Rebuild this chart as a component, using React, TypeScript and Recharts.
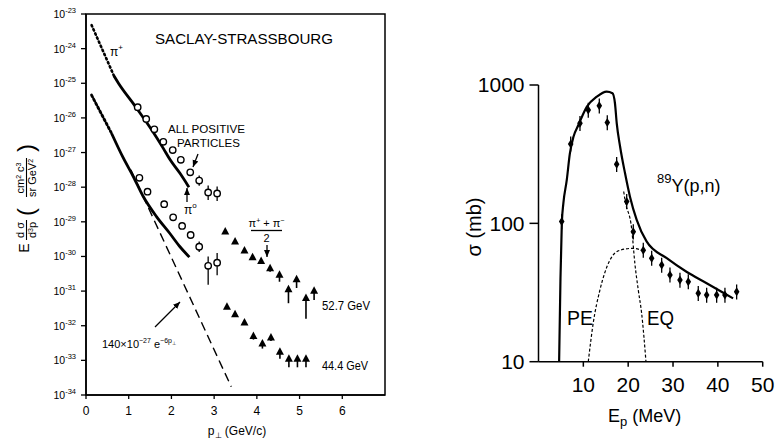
import React from 'react';
import { ComposedChart, Line, Scatter, XAxis, YAxis, ErrorBar, ReferenceArea } from 'recharts';

const FONT = '"Liberation Sans", Arial, sans-serif';

// ---------------- Left panel (y = log10 of E d3sigma/dp3) ----------------
const leftXTicks = [0, 1, 2, 3, 4, 5, 6];
const leftYTicks = [-34, -33, -32, -31, -30, -29, -28, -27, -26, -25, -24, -23];

const piPlusFitDotted = [
  { x: 0.13, y: -23.32 },
  { x: 0.66, y: -24.8 },
];
const piPlusFit = [
  { x: 0.66, y: -24.8 },
  { x: 0.76, y: -25.0 },
  { x: 1.15, y: -25.66 },
  { x: 1.54, y: -26.35 },
  { x: 1.81, y: -26.88 },
  { x: 1.97, y: -27.21 },
  { x: 2.2, y: -27.6 },
  { x: 2.41, y: -28.0 },
];
const piZeroFitDotted = [
  { x: 0.13, y: -25.34 },
  { x: 0.6, y: -26.45 },
];
const piZeroFit = [
  { x: 0.6, y: -26.45 },
  { x: 0.87, y: -27.15 },
  { x: 1.11, y: -27.7 },
  { x: 1.34, y: -28.27 },
  { x: 1.65, y: -28.85 },
  { x: 1.96, y: -29.33 },
  { x: 2.2, y: -29.72 },
  { x: 2.42, y: -30.02 },
];
const expLine = [
  { x: 1.05, y: -27.5 },
  { x: 3.4, y: -33.76 },
];
const allPositiveUpper = [
  { x: 1.21, y: -25.69, e: [0, 0] },
  { x: 1.41, y: -26.03, e: [0, 0] },
  { x: 1.6, y: -26.33, e: [0, 0] },
  { x: 1.81, y: -26.69, e: [0, 0] },
  { x: 2.03, y: -26.93, e: [0, 0] },
  { x: 2.22, y: -27.21, e: [0, 0] },
  { x: 2.44, y: -27.57, e: [0.08, 0.08] },
  { x: 2.65, y: -27.81, e: [0.15, 0.15] },
  { x: 2.86, y: -28.15, e: [0.22, 0.2] },
  { x: 3.07, y: -28.18, e: [0.22, 0.2] },
];
const allPositiveLower = [
  { x: 1.25, y: -27.73, e: [0, 0] },
  { x: 1.44, y: -28.13, e: [0, 0] },
  { x: 1.83, y: -28.49, e: [0, 0] },
  { x: 2.04, y: -28.87, e: [0, 0] },
  { x: 2.25, y: -29.12, e: [0, 0] },
  { x: 2.45, y: -29.38, e: [0.08, 0.08] },
  { x: 2.65, y: -29.72, e: [0.15, 0.15] },
  { x: 2.86, y: -30.27, e: [0.55, 0.27] },
  { x: 3.07, y: -30.18, e: [0.36, 0.28] },
];
const pions527 = [
  { x: 3.26, y: -29.28, e: [0, 0] },
  { x: 3.49, y: -29.57, e: [0, 0] },
  { x: 3.71, y: -29.83, e: [0, 0] },
  { x: 3.9, y: -30.02, e: [0, 0] },
  { x: 4.1, y: -30.13, e: [0, 0] },
  { x: 4.31, y: -30.34, e: [0.1, 0.05] },
  { x: 4.53, y: -30.53, e: [0.2, 0.05] },
  { x: 4.74, y: -30.95, e: [0.4, 0.05] },
  { x: 4.93, y: -30.66, e: [0.25, 0.05] },
  { x: 5.15, y: -31.2, e: [0.6, 0.05] },
  { x: 5.34, y: -30.99, e: [0.27, 0.05] },
];
const pions444 = [
  { x: 3.3, y: -31.45, e: [0, 0] },
  { x: 3.49, y: -31.67, e: [0, 0] },
  { x: 3.71, y: -31.91, e: [0, 0] },
  { x: 3.92, y: -32.3, e: [0.1, 0.05] },
  { x: 4.13, y: -32.51, e: [0.15, 0.05] },
  { x: 4.33, y: -32.34, e: [0.1, 0.05] },
  { x: 4.54, y: -32.75, e: [0.2, 0.05] },
  { x: 4.75, y: -32.95, e: [0.25, 0.05] },
  { x: 4.95, y: -32.95, e: [0.25, 0.05] },
  { x: 5.15, y: -32.95, e: [0.25, 0.05] },
];

// ---------------- Right panel: 89Y(p,n) ----------------
const rightXTicks = [10, 20, 30, 40, 50];
const rightYTicks = [10, 100, 1000];
const totalCurve = [
  { x: 4.6, y: 10 },
  { x: 4.9, y: 40 },
  { x: 5.2, y: 100 },
  { x: 5.55, y: 140 },
  { x: 6.3, y: 205 },
  { x: 7.0, y: 320 },
  { x: 7.8, y: 423 },
  { x: 8.9, y: 514 },
  { x: 10.8, y: 697 },
  { x: 13.0, y: 823 },
  { x: 15.2, y: 895 },
  { x: 16.5, y: 871 },
  { x: 17.05, y: 738 },
  { x: 17.45, y: 528 },
  { x: 18.2, y: 358 },
  { x: 19.3, y: 230 },
  { x: 20.4, y: 156 },
  { x: 21.9, y: 106 },
  { x: 24.1, y: 74 },
  { x: 28.6, y: 56 },
  { x: 33.0, y: 44.7 },
  { x: 37.5, y: 36.9 },
  { x: 43.4, y: 28.7 },
];
const peCurve = [
  { x: 11.1, y: 10 },
  { x: 12.2, y: 19 },
  { x: 13.7, y: 33 },
  { x: 15.9, y: 54 },
  { x: 18.2, y: 64 },
  { x: 21.1, y: 66 },
  { x: 23.4, y: 63 },
];
const eqCurve = [
  { x: 19.0, y: 170 },
  { x: 19.3, y: 147 },
  { x: 20.8, y: 90 },
  { x: 21.5, y: 51 },
  { x: 22.25, y: 33 },
  { x: 23.0, y: 22.4 },
  { x: 23.97, y: 10 },
];
const measured = [
  { x: 5.17, y: 103 },
  { x: 7.18, y: 375 },
  { x: 9.25, y: 528 },
  { x: 11.1, y: 659 },
  { x: 13.56, y: 708 },
  { x: 15.34, y: 535 },
  { x: 17.43, y: 267 },
  { x: 19.67, y: 144 },
  { x: 21.14, y: 87 },
  { x: 23.37, y: 64 },
  { x: 25.24, y: 56 },
  { x: 27.47, y: 50 },
  { x: 29.32, y: 42.4 },
  { x: 31.55, y: 38.9 },
  { x: 33.41, y: 37.9 },
  { x: 35.63, y: 31.2 },
  { x: 37.5, y: 30.3 },
  { x: 39.73, y: 30.3 },
  { x: 41.58, y: 30.3 },
  { x: 44.19, y: 32 },
].map((d) => ({ ...d, e: [d.y * 0.12, d.y * 0.13] }));

// ---------------- shapes ----------------
const OpenCircle = (p: any) => (
  <circle cx={p.cx} cy={p.cy} r={3.2} fill="#fff" stroke="#000" strokeWidth={1.4} />
);
const Triangle = (p: any) => (
  <path
    d={`M${p.cx},${p.cy - 4.5} L${p.cx + 4},${p.cy + 3} L${p.cx - 4},${p.cy + 3} Z`}
    fill="#000"
  />
);
const Diamond = (p: any) => (
  <path
    d={`M${p.cx},${p.cy - 4.5} L${p.cx + 2.8},${p.cy} L${p.cx},${p.cy + 4.5} L${p.cx - 2.8},${p.cy} Z`}
    fill="#000"
  />
);

const LeftYTick = (props: any) => {
  const { x, y, payload } = props;
  const v = payload.value as number;
  return (
    <text x={x} y={y} dy={4} textAnchor="end" fontSize={10.5} fontFamily={FONT} fill="#000">
      <tspan>10</tspan>
      <tspan dy={-5} fontSize={7.5}>{'-' + Math.abs(v)}</tspan>
    </text>
  );
};

const axisLine = { stroke: '#000', strokeWidth: 1.5 };

function LeftChart() {
  return (
    <ComposedChart
      width={400}
      height={442}
      margin={{ top: 14, right: 15, bottom: 17, left: 30 }}
    >
      <XAxis
        dataKey="x"
        type="number"
        domain={[0, 7]}
        ticks={leftXTicks}
        allowDataOverflow
        height={30}
        tickSize={4}
        tickMargin={7}
        axisLine={axisLine}
        tickLine={{ stroke: '#000', strokeWidth: 1.3 }}
        tick={{ fontSize: 12, fill: '#000', fontFamily: FONT }}
      />
      <YAxis
        type="number"
        domain={[-34, -23]}
        ticks={leftYTicks}
        allowDataOverflow
        width={56}
        tickSize={5}
        tickMargin={5}
        axisLine={axisLine}
        tickLine={{ stroke: '#000', strokeWidth: 1.3 }}
        tick={<LeftYTick />}
        interval={0}
      />
      <ReferenceArea x1={0} x2={7} y1={-34} y2={-23} fill="none" fillOpacity={0} stroke="#000" strokeWidth={1.5} />
      <Line data={piPlusFitDotted} dataKey="y" stroke="#000" strokeWidth={2.6} strokeDasharray="1.5 3" strokeLinecap="round" dot={false} isAnimationActive={false} />
      <Line data={piPlusFit} type="monotone" dataKey="y" stroke="#000" strokeWidth={2.8} dot={false} isAnimationActive={false} />
      <Line data={piZeroFitDotted} dataKey="y" stroke="#000" strokeWidth={2.8} strokeDasharray="2 2.5" strokeLinecap="round" dot={false} isAnimationActive={false} />
      <Line data={piZeroFit} type="monotone" dataKey="y" stroke="#000" strokeWidth={2.8} dot={false} isAnimationActive={false} />
      <Line data={expLine} dataKey="y" stroke="#000" strokeWidth={1.4} strokeDasharray="9 5" dot={false} isAnimationActive={false} />
      <Scatter data={allPositiveUpper} dataKey="y" shape={OpenCircle} isAnimationActive={false}>
        <ErrorBar dataKey="e" direction="y" width={0} stroke="#000" strokeWidth={1.3} />
      </Scatter>
      <Scatter data={allPositiveLower} dataKey="y" shape={OpenCircle} isAnimationActive={false}>
        <ErrorBar dataKey="e" direction="y" width={0} stroke="#000" strokeWidth={1.3} />
      </Scatter>
      <Scatter data={pions527} dataKey="y" shape={Triangle} isAnimationActive={false}>
        <ErrorBar dataKey="e" direction="y" width={0} stroke="#000" strokeWidth={1.6} />
      </Scatter>
      <Scatter data={pions444} dataKey="y" shape={Triangle} isAnimationActive={false}>
        <ErrorBar dataKey="e" direction="y" width={0} stroke="#000" strokeWidth={1.6} />
      </Scatter>
    </ComposedChart>
  );
}

function RightChart() {
  return (
    <ComposedChart
      width={377}
      height={442}
      margin={{ top: 85, right: 14.3, bottom: 40.3, left: 60.5 }}
    >
      <XAxis
        dataKey="x"
        type="number"
        domain={[0, 50]}
        ticks={rightXTicks}
        allowDataOverflow
        height={40}
        tickSize={5}
        tickMargin={10}
        axisLine={axisLine}
        tickLine={{ stroke: '#000', strokeWidth: 1.5 }}
        tick={{ fontSize: 21, fill: '#000', fontFamily: FONT }}
      />
      <YAxis
        type="number"
        scale="log"
        domain={[10, 1000]}
        ticks={rightYTicks}
        allowDataOverflow
        width={78}
        tickSize={9}
        tickMargin={5}
        axisLine={axisLine}
        tickLine={{ stroke: '#000', strokeWidth: 1.5 }}
        tick={{ fontSize: 21, fill: '#000', fontFamily: FONT }}
        interval={0}
      />
      <Line data={peCurve} type="monotone" dataKey="y" stroke="#000" strokeWidth={1.2} strokeDasharray="3 2" dot={false} isAnimationActive={false} />
      <Line data={eqCurve} type="monotone" dataKey="y" stroke="#000" strokeWidth={1.2} strokeDasharray="3 2" dot={false} isAnimationActive={false} />
      <Line data={totalCurve} type="monotone" dataKey="y" stroke="#000" strokeWidth={2.2} dot={false} isAnimationActive={false} />
      <Scatter data={measured} dataKey="y" shape={Diamond} isAnimationActive={false}>
        <ErrorBar dataKey="e" direction="y" width={0} stroke="#000" strokeWidth={1.3} />
      </Scatter>
    </ComposedChart>
  );
}

function Annotations() {
  const t = { fontFamily: FONT, fill: '#000' } as const;
  return (
    <svg width={777} height={442} style={{ position: 'absolute', left: 0, top: 0, pointerEvents: 'none' }}>
      <defs>
        <marker id="ah" markerWidth="8" markerHeight="8" refX="7" refY="4" orient="auto" markerUnits="userSpaceOnUse">
          <path d="M0,1 L7,4 L0,7 Z" fill="#000" />
        </marker>
      </defs>
      {/* left panel annotations */}
      <text x={155} y={44} fontSize={14} textLength={178} lengthAdjust="spacingAndGlyphs" {...t}>SACLAY-STRASSBOURG</text>
      <text x={110} y={56} fontSize={12} {...t}>π<tspan dy={-6} fontSize={8}>+</tspan></text>
      <text x={168} y={133} fontSize={11} textLength={77} lengthAdjust="spacingAndGlyphs" {...t}>ALL POSITIVE</text>
      <text x={177} y={147} fontSize={11} textLength={63} lengthAdjust="spacingAndGlyphs" {...t}>PARTICLES</text>
      <line x1={198} y1={154} x2={193} y2={167} stroke="#000" strokeWidth={1.3} markerEnd="url(#ah)" />
      <text x={184} y={214} fontSize={12} {...t}>π<tspan dy={-6} fontSize={8}>o</tspan></text>
      <line x1={187} y1={202} x2={187} y2={188} stroke="#000" strokeWidth={1.3} markerEnd="url(#ah)" />
      <text x={266.5} y={227} fontSize={11} textAnchor="middle" {...t}>
        π<tspan dy={-4} fontSize={7}>+</tspan><tspan dy={4}> + π</tspan><tspan dy={-4} fontSize={7}>−</tspan>
      </text>
      <line x1={251} y1={230.5} x2={282} y2={230.5} stroke="#000" strokeWidth={1.3} />
      <text x={266.5} y={242} fontSize={11} textAnchor="middle" {...t}>2</text>
      <line x1={267} y1={245} x2={267} y2={257} stroke="#000" strokeWidth={1.3} markerEnd="url(#ah)" />
      <text x={322} y={310} fontSize={12} textLength={48} lengthAdjust="spacingAndGlyphs" {...t}>52.7 GeV</text>
      <text x={322} y={370} fontSize={12} textLength={46} lengthAdjust="spacingAndGlyphs" {...t}>44.4 GeV</text>
      <text x={102} y={348} fontSize={11} {...t}>
        140×10<tspan dy={-5} fontSize={7}>−27</tspan><tspan dy={5}> e</tspan><tspan dy={-5} fontSize={7}>−6p</tspan><tspan dy={2} fontSize={5}>⊥</tspan>
      </text>
      <line x1={155} y1={327} x2={180} y2={302} stroke="#000" strokeWidth={1.3} markerEnd="url(#ah)" />
      <text x={237} y={435} fontSize={12} textAnchor="middle" {...t}>
        p<tspan dy={3} fontSize={8}>⊥</tspan><tspan dy={-3}> (GeV/c)</tspan>
      </text>
      <g transform="translate(26,200) rotate(-90)">
        <text x={-48} y={3} fontSize={14} textAnchor="middle" {...t}>E</text>
        <text x={-30} y={-2} fontSize={11} textAnchor="middle" {...t}>d σ</text>
        <line x1={-40} y1={0.5} x2={-20} y2={0.5} stroke="#000" strokeWidth={1.1} />
        <text x={-30} y={10} fontSize={11} textAnchor="middle" {...t}>d<tspan dy={-3} fontSize={7}>3</tspan><tspan dy={3}>p</tspan></text>
        <text x={-12} y={8} fontSize={24} textAnchor="middle" {...t}>(</text>
        <text x={22} y={-2} fontSize={11} textAnchor="middle" {...t}>cm<tspan dy={-3} fontSize={7}>2</tspan><tspan dy={3}> c</tspan><tspan dy={-3} fontSize={7}>3</tspan></text>
        <line x1={3} y1={0.5} x2={42} y2={0.5} stroke="#000" strokeWidth={1.1} />
        <text x={22} y={10} fontSize={11} textAnchor="middle" {...t}>sr GeV<tspan dy={-3} fontSize={7}>2</tspan></text>
        <text x={52} y={8} fontSize={24} textAnchor="middle" {...t}>)</text>
      </g>
      {/* right panel annotations */}
      <text x={657} y={192} fontSize={18} {...t}>
        <tspan dy={-9} fontSize={13}>89</tspan><tspan dy={9}>Y(p,n)</tspan>
      </text>
      <text x={567} y={325} fontSize={20} textLength={26} lengthAdjust="spacingAndGlyphs" {...t}>PE</text>
      <text x={647} y={325} fontSize={20} textLength={27} lengthAdjust="spacingAndGlyphs" {...t}>EQ</text>
      <text x={474} y={227} fontSize={20} textAnchor="middle" dominantBaseline="central" transform="rotate(-90 474 227)" {...t}>σ (mb)</text>
      <text x={608} y={422} fontSize={18} {...t}>
        E<tspan dy={4} fontSize={13}>p</tspan><tspan dy={-4}>  (MeV)</tspan>
      </text>
    </svg>
  );
}

export default function App() {
  return (
    <div style={{ position: 'absolute', left: 0, top: 0, width: 777, height: 442, background: '#fff', overflow: 'hidden' }}>
      <div style={{ position: 'absolute', left: 0, top: 0 }}>
        <LeftChart />
      </div>
      <div style={{ position: 'absolute', left: 400, top: 0 }}>
        <RightChart />
      </div>
      <Annotations />
    </div>
  );
}
